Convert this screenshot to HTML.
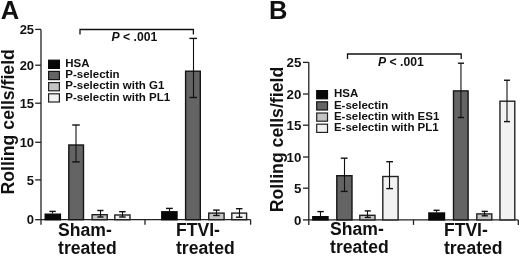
<!DOCTYPE html>
<html><head><meta charset="utf-8"><style>
html,body{margin:0;padding:0;background:#fff;}
body{width:520px;height:256px;overflow:hidden;}
svg{display:block;filter:blur(0.3px);}
text{font-family:"Liberation Sans", sans-serif;font-weight:bold;fill:#111;}
</style></head><body>
<svg width="520" height="256" viewBox="0 0 520 256">
<rect width="520" height="256" fill="#fff"/>
<line x1="41" y1="29.4" x2="41" y2="224.7" stroke="#222" stroke-width="1.3"/>
<line x1="35.2" y1="29.4" x2="41" y2="29.4" stroke="#222" stroke-width="1.3"/>
<line x1="35.2" y1="65.2" x2="41" y2="65.2" stroke="#222" stroke-width="1.3"/>
<line x1="35.2" y1="103.2" x2="41" y2="103.2" stroke="#222" stroke-width="1.3"/>
<line x1="35.2" y1="142.3" x2="41" y2="142.3" stroke="#222" stroke-width="1.3"/>
<line x1="35.2" y1="179.9" x2="41" y2="179.9" stroke="#222" stroke-width="1.3"/>
<line x1="35.2" y1="219.7" x2="41" y2="219.7" stroke="#222" stroke-width="1.3"/>
<text x="34.1" y="34.0" font-size="13" text-anchor="end" >25</text>
<text x="34.1" y="69.8" font-size="13" text-anchor="end" >20</text>
<text x="34.1" y="107.8" font-size="13" text-anchor="end" >15</text>
<text x="34.1" y="146.9" font-size="13" text-anchor="end" >10</text>
<text x="34.1" y="184.5" font-size="13" text-anchor="end" >5</text>
<text x="34.1" y="224.29999999999998" font-size="13" text-anchor="end" >0</text>
<line x1="41" y1="219.7" x2="250.6" y2="219.7" stroke="#222" stroke-width="1.3"/>
<line x1="145" y1="219.7" x2="145" y2="224.7" stroke="#222" stroke-width="1.3"/>
<line x1="250.6" y1="219.7" x2="250.6" y2="224.7" stroke="#222" stroke-width="1.3"/>
<rect x="45.20" y="214.20" width="15.20" height="5.50" fill="#080808" stroke="#080808" stroke-width="1.4"/>
<line x1="52.5" y1="211.4" x2="52.5" y2="213.5" stroke="#111" stroke-width="1.1"/>
<line x1="49.39999999999999" y1="211.4" x2="55.8" y2="211.4" stroke="#111" stroke-width="1.4"/>
<rect x="68.80" y="145.00" width="14.70" height="74.70" fill="#646464" stroke="#151515" stroke-width="1.4"/>
<line x1="76.0" y1="125" x2="76.0" y2="161.9" stroke="#111" stroke-width="1.1"/>
<line x1="72.2" y1="125" x2="79.8" y2="125" stroke="#111" stroke-width="1.4"/>
<line x1="72.2" y1="161.9" x2="79.8" y2="161.9" stroke="#111" stroke-width="1.4"/>
<rect x="92.10" y="214.70" width="15.10" height="5.00" fill="#c4c4c4" stroke="#222" stroke-width="1.4"/>
<line x1="100.5" y1="210.5" x2="100.5" y2="217" stroke="#111" stroke-width="1.1"/>
<line x1="97.30000000000001" y1="210.5" x2="103.5" y2="210.5" stroke="#111" stroke-width="1.4"/>
<line x1="97.30000000000001" y1="217" x2="103.5" y2="217" stroke="#111" stroke-width="1.4"/>
<rect x="114.80" y="215.00" width="15.20" height="4.70" fill="#f2f2f2" stroke="#222" stroke-width="1.4"/>
<line x1="122.5" y1="211.7" x2="122.5" y2="217" stroke="#111" stroke-width="1.1"/>
<line x1="119.14999999999999" y1="211.7" x2="125.64999999999999" y2="211.7" stroke="#111" stroke-width="1.4"/>
<line x1="119.14999999999999" y1="217" x2="125.64999999999999" y2="217" stroke="#111" stroke-width="1.4"/>
<rect x="161.80" y="211.80" width="15.20" height="7.90" fill="#080808" stroke="#080808" stroke-width="1.4"/>
<line x1="169.5" y1="208.4" x2="169.5" y2="211.1" stroke="#111" stroke-width="1.1"/>
<line x1="166.0" y1="208.4" x2="172.8" y2="208.4" stroke="#111" stroke-width="1.4"/>
<rect x="185.60" y="71.20" width="14.70" height="148.50" fill="#646464" stroke="#151515" stroke-width="1.4"/>
<line x1="193.5" y1="38.4" x2="193.5" y2="97.5" stroke="#111" stroke-width="1.1"/>
<line x1="189.39999999999998" y1="38.4" x2="197.0" y2="38.4" stroke="#111" stroke-width="1.4"/>
<line x1="189.39999999999998" y1="97.5" x2="197.0" y2="97.5" stroke="#111" stroke-width="1.4"/>
<rect x="208.70" y="213.10" width="15.40" height="6.60" fill="#c4c4c4" stroke="#222" stroke-width="1.4"/>
<line x1="216.5" y1="210.1" x2="216.5" y2="215.5" stroke="#111" stroke-width="1.1"/>
<line x1="213.15" y1="210.1" x2="219.65" y2="210.1" stroke="#111" stroke-width="1.4"/>
<line x1="213.15" y1="215.5" x2="219.65" y2="215.5" stroke="#111" stroke-width="1.4"/>
<rect x="231.80" y="213.10" width="14.80" height="6.60" fill="#f2f2f2" stroke="#222" stroke-width="1.4"/>
<line x1="239.5" y1="208.7" x2="239.5" y2="217.2" stroke="#111" stroke-width="1.1"/>
<line x1="235.95" y1="208.7" x2="242.45" y2="208.7" stroke="#111" stroke-width="1.4"/>
<line x1="235.95" y1="217.2" x2="242.45" y2="217.2" stroke="#111" stroke-width="1.4"/>
<polyline points="80,34.5 80,29.5 193.4,29.5 193.4,34.5" fill="none" stroke="#111" stroke-width="1.3"/>
<text x="111.5" y="40.5" font-size="12.2"><tspan font-style="italic">P</tspan> &lt; .001</text>
<rect x="48.6" y="60.2" width="10.8" height="8.200000000000001" fill="#080808" stroke="#080808" stroke-width="1.2"/>
<text x="65.32" y="67.0" font-size="11.5" text-anchor="start" >HSA</text>
<rect x="48.6" y="71.4" width="10.8" height="8.200000000000001" fill="#646464" stroke="#151515" stroke-width="1.2"/>
<text x="65.32" y="78.2" font-size="11.5" text-anchor="start" >P-selectin</text>
<rect x="48.6" y="82.6" width="10.8" height="8.200000000000001" fill="#c4c4c4" stroke="#222" stroke-width="1.2"/>
<text x="65.32" y="89.39999999999999" font-size="11.5" text-anchor="start" >P-selectin with G1</text>
<rect x="48.6" y="93.8" width="10.8" height="8.200000000000001" fill="#f2f2f2" stroke="#222" stroke-width="1.2"/>
<text x="65.32" y="100.6" font-size="11.5" text-anchor="start" >P-selectin with PL1</text>
<text transform="translate(14.2,121.8) rotate(-90)" font-size="17.7" text-anchor="middle">Rolling cells/field</text>
<text x="58.1" y="235.6" font-size="17.6" text-anchor="start" >Sham-</text>
<text x="58.1" y="253.6" font-size="17.6" text-anchor="start" >treated</text>
<text x="176.0" y="236.2" font-size="17.6" text-anchor="start" >FTVI-</text>
<text x="176.0" y="253.9" font-size="17.6" text-anchor="start" >treated</text>
<text x="0.7" y="18.5" font-size="25.5" text-anchor="start" >A</text>
<line x1="308.8" y1="62.2" x2="308.8" y2="224.9" stroke="#222" stroke-width="1.3"/>
<line x1="303.0" y1="62.4" x2="308.8" y2="62.4" stroke="#222" stroke-width="1.3"/>
<line x1="303.0" y1="94" x2="308.8" y2="94" stroke="#222" stroke-width="1.3"/>
<line x1="303.0" y1="125.2" x2="308.8" y2="125.2" stroke="#222" stroke-width="1.3"/>
<line x1="303.0" y1="157" x2="308.8" y2="157" stroke="#222" stroke-width="1.3"/>
<line x1="303.0" y1="188.2" x2="308.8" y2="188.2" stroke="#222" stroke-width="1.3"/>
<line x1="303.0" y1="219.9" x2="308.8" y2="219.9" stroke="#222" stroke-width="1.3"/>
<text x="301.4" y="67.3" font-size="13.3" text-anchor="end" >25</text>
<text x="301.4" y="98.9" font-size="13.3" text-anchor="end" >20</text>
<text x="301.4" y="130.1" font-size="13.3" text-anchor="end" >15</text>
<text x="301.4" y="161.9" font-size="13.3" text-anchor="end" >10</text>
<text x="301.4" y="193.1" font-size="13.3" text-anchor="end" >5</text>
<text x="301.4" y="224.8" font-size="13.3" text-anchor="end" >0</text>
<line x1="308.8" y1="219.9" x2="518.3" y2="219.9" stroke="#222" stroke-width="1.3"/>
<line x1="413.5" y1="219.9" x2="413.5" y2="224.9" stroke="#222" stroke-width="1.3"/>
<line x1="518.3" y1="219.9" x2="518.3" y2="224.9" stroke="#222" stroke-width="1.3"/>
<rect x="312.80" y="216.70" width="15.20" height="3.20" fill="#080808" stroke="#080808" stroke-width="1.4"/>
<line x1="320.5" y1="211.6" x2="320.5" y2="216" stroke="#111" stroke-width="1.1"/>
<line x1="317.3" y1="211.6" x2="323.8" y2="211.6" stroke="#111" stroke-width="1.4"/>
<rect x="336.80" y="175.70" width="15.20" height="44.20" fill="#646464" stroke="#151515" stroke-width="1.4"/>
<line x1="344.5" y1="158.2" x2="344.5" y2="191.4" stroke="#111" stroke-width="1.1"/>
<line x1="340.80000000000007" y1="158.2" x2="347.6" y2="158.2" stroke="#111" stroke-width="1.4"/>
<line x1="340.80000000000007" y1="191.4" x2="347.6" y2="191.4" stroke="#111" stroke-width="1.4"/>
<rect x="359.80" y="215.30" width="15.20" height="4.60" fill="#c4c4c4" stroke="#222" stroke-width="1.4"/>
<line x1="367.5" y1="210.9" x2="367.5" y2="217.4" stroke="#111" stroke-width="1.1"/>
<line x1="364.8" y1="210.9" x2="370.8" y2="210.9" stroke="#111" stroke-width="1.4"/>
<line x1="364.8" y1="217.4" x2="370.8" y2="217.4" stroke="#111" stroke-width="1.4"/>
<rect x="382.80" y="176.50" width="15.30" height="43.40" fill="#f2f2f2" stroke="#222" stroke-width="1.4"/>
<line x1="389.5" y1="161.7" x2="389.5" y2="188.6" stroke="#111" stroke-width="1.1"/>
<line x1="386.29999999999995" y1="161.7" x2="393.0" y2="161.7" stroke="#111" stroke-width="1.4"/>
<line x1="386.29999999999995" y1="188.6" x2="393.0" y2="188.6" stroke="#111" stroke-width="1.4"/>
<rect x="428.90" y="213.00" width="15.60" height="6.90" fill="#080808" stroke="#080808" stroke-width="1.4"/>
<line x1="436.5" y1="210.3" x2="436.5" y2="212.3" stroke="#111" stroke-width="1.1"/>
<line x1="433.5" y1="210.3" x2="439.6" y2="210.3" stroke="#111" stroke-width="1.4"/>
<rect x="453.50" y="90.90" width="14.60" height="129.00" fill="#646464" stroke="#151515" stroke-width="1.4"/>
<line x1="460.95" y1="63.2" x2="460.95" y2="117.5" stroke="#111" stroke-width="1.1"/>
<line x1="457.9" y1="63.2" x2="464.0" y2="63.2" stroke="#111" stroke-width="1.4"/>
<line x1="457.9" y1="117.5" x2="464.0" y2="117.5" stroke="#111" stroke-width="1.4"/>
<rect x="476.80" y="213.90" width="15.00" height="6.00" fill="#c4c4c4" stroke="#222" stroke-width="1.4"/>
<line x1="484.5" y1="211.4" x2="484.5" y2="215.8" stroke="#111" stroke-width="1.1"/>
<line x1="481.7" y1="211.4" x2="487.8" y2="211.4" stroke="#111" stroke-width="1.4"/>
<line x1="481.7" y1="215.8" x2="487.8" y2="215.8" stroke="#111" stroke-width="1.4"/>
<rect x="499.95" y="101.20" width="14.85" height="118.70" fill="#f2f2f2" stroke="#222" stroke-width="1.4"/>
<line x1="507.0" y1="80.25" x2="507.0" y2="121.6" stroke="#111" stroke-width="1.1"/>
<line x1="504.0" y1="80.25" x2="510.0" y2="80.25" stroke="#111" stroke-width="1.4"/>
<line x1="504.0" y1="121.6" x2="510.0" y2="121.6" stroke="#111" stroke-width="1.4"/>
<polyline points="347.5,59 347.5,54 461.2,54 461.2,59" fill="none" stroke="#111" stroke-width="1.3"/>
<text x="378" y="65.6" font-size="12.2"><tspan font-style="italic">P</tspan> &lt; .001</text>
<rect x="316.70000000000005" y="90.6" width="10.8" height="8.200000000000001" fill="#080808" stroke="#080808" stroke-width="1.2"/>
<text x="333.92" y="97.39999999999999" font-size="11.5" text-anchor="start" >HSA</text>
<rect x="316.70000000000005" y="101.8" width="10.8" height="8.200000000000001" fill="#646464" stroke="#151515" stroke-width="1.2"/>
<text x="333.92" y="108.6" font-size="11.5" text-anchor="start" >E-selectin</text>
<rect x="316.70000000000005" y="113.0" width="10.8" height="8.200000000000001" fill="#c4c4c4" stroke="#222" stroke-width="1.2"/>
<text x="333.92" y="119.8" font-size="11.5" text-anchor="start" >E-selectin with ES1</text>
<rect x="316.70000000000005" y="124.19999999999999" width="10.8" height="8.200000000000001" fill="#f2f2f2" stroke="#222" stroke-width="1.2"/>
<text x="333.92" y="131.0" font-size="11.5" text-anchor="start" >E-selectin with PL1</text>
<text transform="translate(283.2,139.5) rotate(-90)" font-size="17.7" text-anchor="middle">Rolling cells/field</text>
<text x="330.1" y="234.7" font-size="17.6" text-anchor="start" >Sham-</text>
<text x="330.1" y="252.6" font-size="17.6" text-anchor="start" >treated</text>
<text x="443.9" y="235.9" font-size="17.6" text-anchor="start" >FTVI-</text>
<text x="443.9" y="253.7" font-size="17.6" text-anchor="start" >treated</text>
<text x="269" y="18.7" font-size="25.5" text-anchor="start" >B</text>
</svg>
</body></html>
